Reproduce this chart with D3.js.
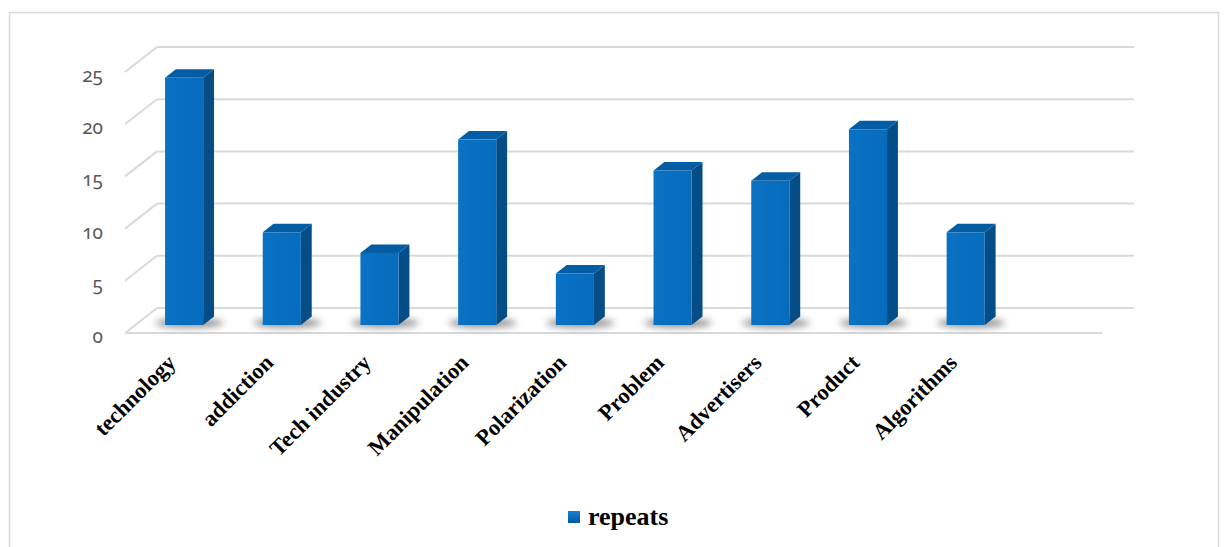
<!DOCTYPE html>
<html>
<head>
<meta charset="utf-8">
<script src="https://cdn.jsdelivr.net/npm/d3@7/dist/d3.min.js"></script>
<style>
  html, body { margin: 0; padding: 0; background: #fff; }
  svg { display: block; }
  .tick-label { font-family: "Noto Sans", "Open Sans", sans-serif; font-size: 19px; fill: #595959; font-variant-numeric: oldstyle-nums; font-feature-settings: "onum" 1; }
  .cat-label { font-family: "Liberation Serif", "Times New Roman", serif; font-weight: bold; font-size: 22.5px; fill: #000; }
  .legend-label { font-family: "Liberation Serif", "Times New Roman", serif; font-weight: bold; font-size: 26px; fill: #000; }
</style>
</head>
<body>
<svg id="chart" width="1227" height="547"></svg>
<script>
// Keyword frequencies
const categories = ["technology", "addiction", "Tech industry", "Manipulation", "Polarization",
                    "Problem", "Advertisers", "Product", "Algorithms"];
const repeats = [24, 9, 7, 18, 5, 15, 14, 19, 9];
const yTicks = [0, 5, 10, 15, 20, 25];
const seriesName = "repeats";

const svg = d3.select("#chart");
const W = 1227, H = 547;

// outer frame
svg.append("rect")
  .attr("x", 9.5).attr("y", 12.5)
  .attr("width", 1209).attr("height", H)
  .attr("fill", "none").attr("stroke", "#d9d9d9").attr("stroke-width", 1.5);

// 3D plot geometry: front floor edge and depth offset of the back wall
const floorLeft = 125;
const depthX = 32, depthY = -25;
const slots = categories.length + 1;           // floor spans one empty slot after the last category
const step = 97.7;

const x = d3.scaleBand()
  .domain(categories)
  .range([floorLeft, floorLeft + step * categories.length])
  .paddingInner(0.61)
  .paddingOuter(0.305);
const floorRight = floorLeft + x.step() * slots;

// value scale on the back wall
const yBack = d3.scaleLinear().domain([0, 25]).range([308, 47]);
const yFront = v => yBack(v) - depthY;

// gridlines: back wall lines + left wall diagonals
const grid = svg.append("g");
yTicks.forEach(v => {
  grid.append("line")
    .attr("x1", floorLeft + depthX).attr("x2", floorLeft + depthX + x.step() * slots)
    .attr("y1", yBack(v)).attr("y2", yBack(v))
    .attr("stroke", "#d9d9d9").attr("stroke-width", 2);
  grid.append("line")
    .attr("x1", floorLeft).attr("y1", yFront(v))
    .attr("x2", floorLeft + depthX).attr("y2", yBack(v))
    .attr("stroke", "#d9d9d9").attr("stroke-width", 2);
});
// floor front edge
grid.append("line")
  .attr("x1", floorLeft).attr("x2", floorRight)
  .attr("y1", yFront(0)).attr("y2", yFront(0))
  .attr("stroke", "#d9d9d9").attr("stroke-width", 2);

// tick labels
svg.append("g").selectAll("text")
  .data(yTicks)
  .join("text")
  .attr("class", "tick-label")
  .attr("x", 103)
  .attr("y", d => yFront(d) + 10)
  .attr("text-anchor", "end")
  .text(d => d);

// bars sit in the middle of the depth
const tFront = 0.32, tDepth = 0.34;
const barDX = depthX * tDepth, barDY = depthY * tDepth;
const offX = depthX * tFront, offY = depthY * tFront;
const yBar = d3.scaleLinear().domain([0, 25]).range([yFront(0) + offY, yFront(0) + offY - 25 * 10.3]);

const defs = svg.append("defs");
defs.append("filter").attr("id", "soft").attr("x", "-50%").attr("y", "-200%").attr("width", "200%").attr("height", "500%")
  .append("feGaussianBlur").attr("stdDeviation", 3.5);
const gFront = defs.append("linearGradient").attr("id", "front").attr("x1", 0).attr("x2", 1).attr("y1", 0).attr("y2", 0);
gFront.append("stop").attr("offset", 0).attr("stop-color", "#0a72c4");
gFront.append("stop").attr("offset", 1).attr("stop-color", "#066bbb");
const gLeg = defs.append("linearGradient").attr("id", "leg").attr("x1", 0).attr("x2", 0).attr("y1", 0).attr("y2", 1);
gLeg.append("stop").attr("offset", 0).attr("stop-color", "#1a7fd0");
gLeg.append("stop").attr("offset", 1).attr("stop-color", "#0059a0");

const data = categories.map((c, i) => ({ cat: c, value: repeats[i] }));

// floor shadows
svg.append("g").selectAll("ellipse")
  .data(data)
  .join("ellipse")
  .attr("cx", d => x(d.cat) + offX + x.bandwidth() / 2 + barDX / 2)
  .attr("cy", yBar(0) - 2)
  .attr("rx", 34).attr("ry", 4.5)
  .attr("fill", "#333").attr("opacity", 0.55)
  .attr("filter", "url(#soft)");

const bars = svg.append("g").selectAll("g")
  .data(data)
  .join("g");

bars.each(function(d) {
  const g = d3.select(this);
  const x0 = x(d.cat) + offX, x1 = x0 + x.bandwidth();
  const yt = yBar(d.value), yb = yBar(0);
  // side face
  g.append("path")
    .attr("d", `M${x1},${yt} L${x1 + barDX},${yt + barDY} L${x1 + barDX},${yb + barDY} L${x1},${yb} Z`)
    .attr("fill", "#044d87");
  // top face
  g.append("path")
    .attr("d", `M${x0},${yt} L${x1},${yt} L${x1 + barDX},${yt + barDY} L${x0 + barDX},${yt + barDY} Z`)
    .attr("fill", "#035da4");
  // front face
  g.append("rect")
    .attr("x", x0).attr("y", yt)
    .attr("width", x.bandwidth()).attr("height", yb - yt)
    .attr("fill", "url(#front)");
});

// category labels, rotated
svg.append("g").selectAll("text")
  .data(categories)
  .join("text")
  .attr("class", "cat-label")
  .attr("text-anchor", "end")
  .attr("transform", d => `translate(${x(d) + x.bandwidth() / 2 + 3},${364}) rotate(-45)`)
  .text(d => d);

// legend
const legend = svg.append("g").attr("transform", "translate(568,511)");
legend.append("rect").attr("width", 12).attr("height", 12).attr("fill", "url(#leg)");
legend.append("text").attr("class", "legend-label").attr("x", 20).attr("y", 14).text(seriesName);
</script>
</body>
</html>
